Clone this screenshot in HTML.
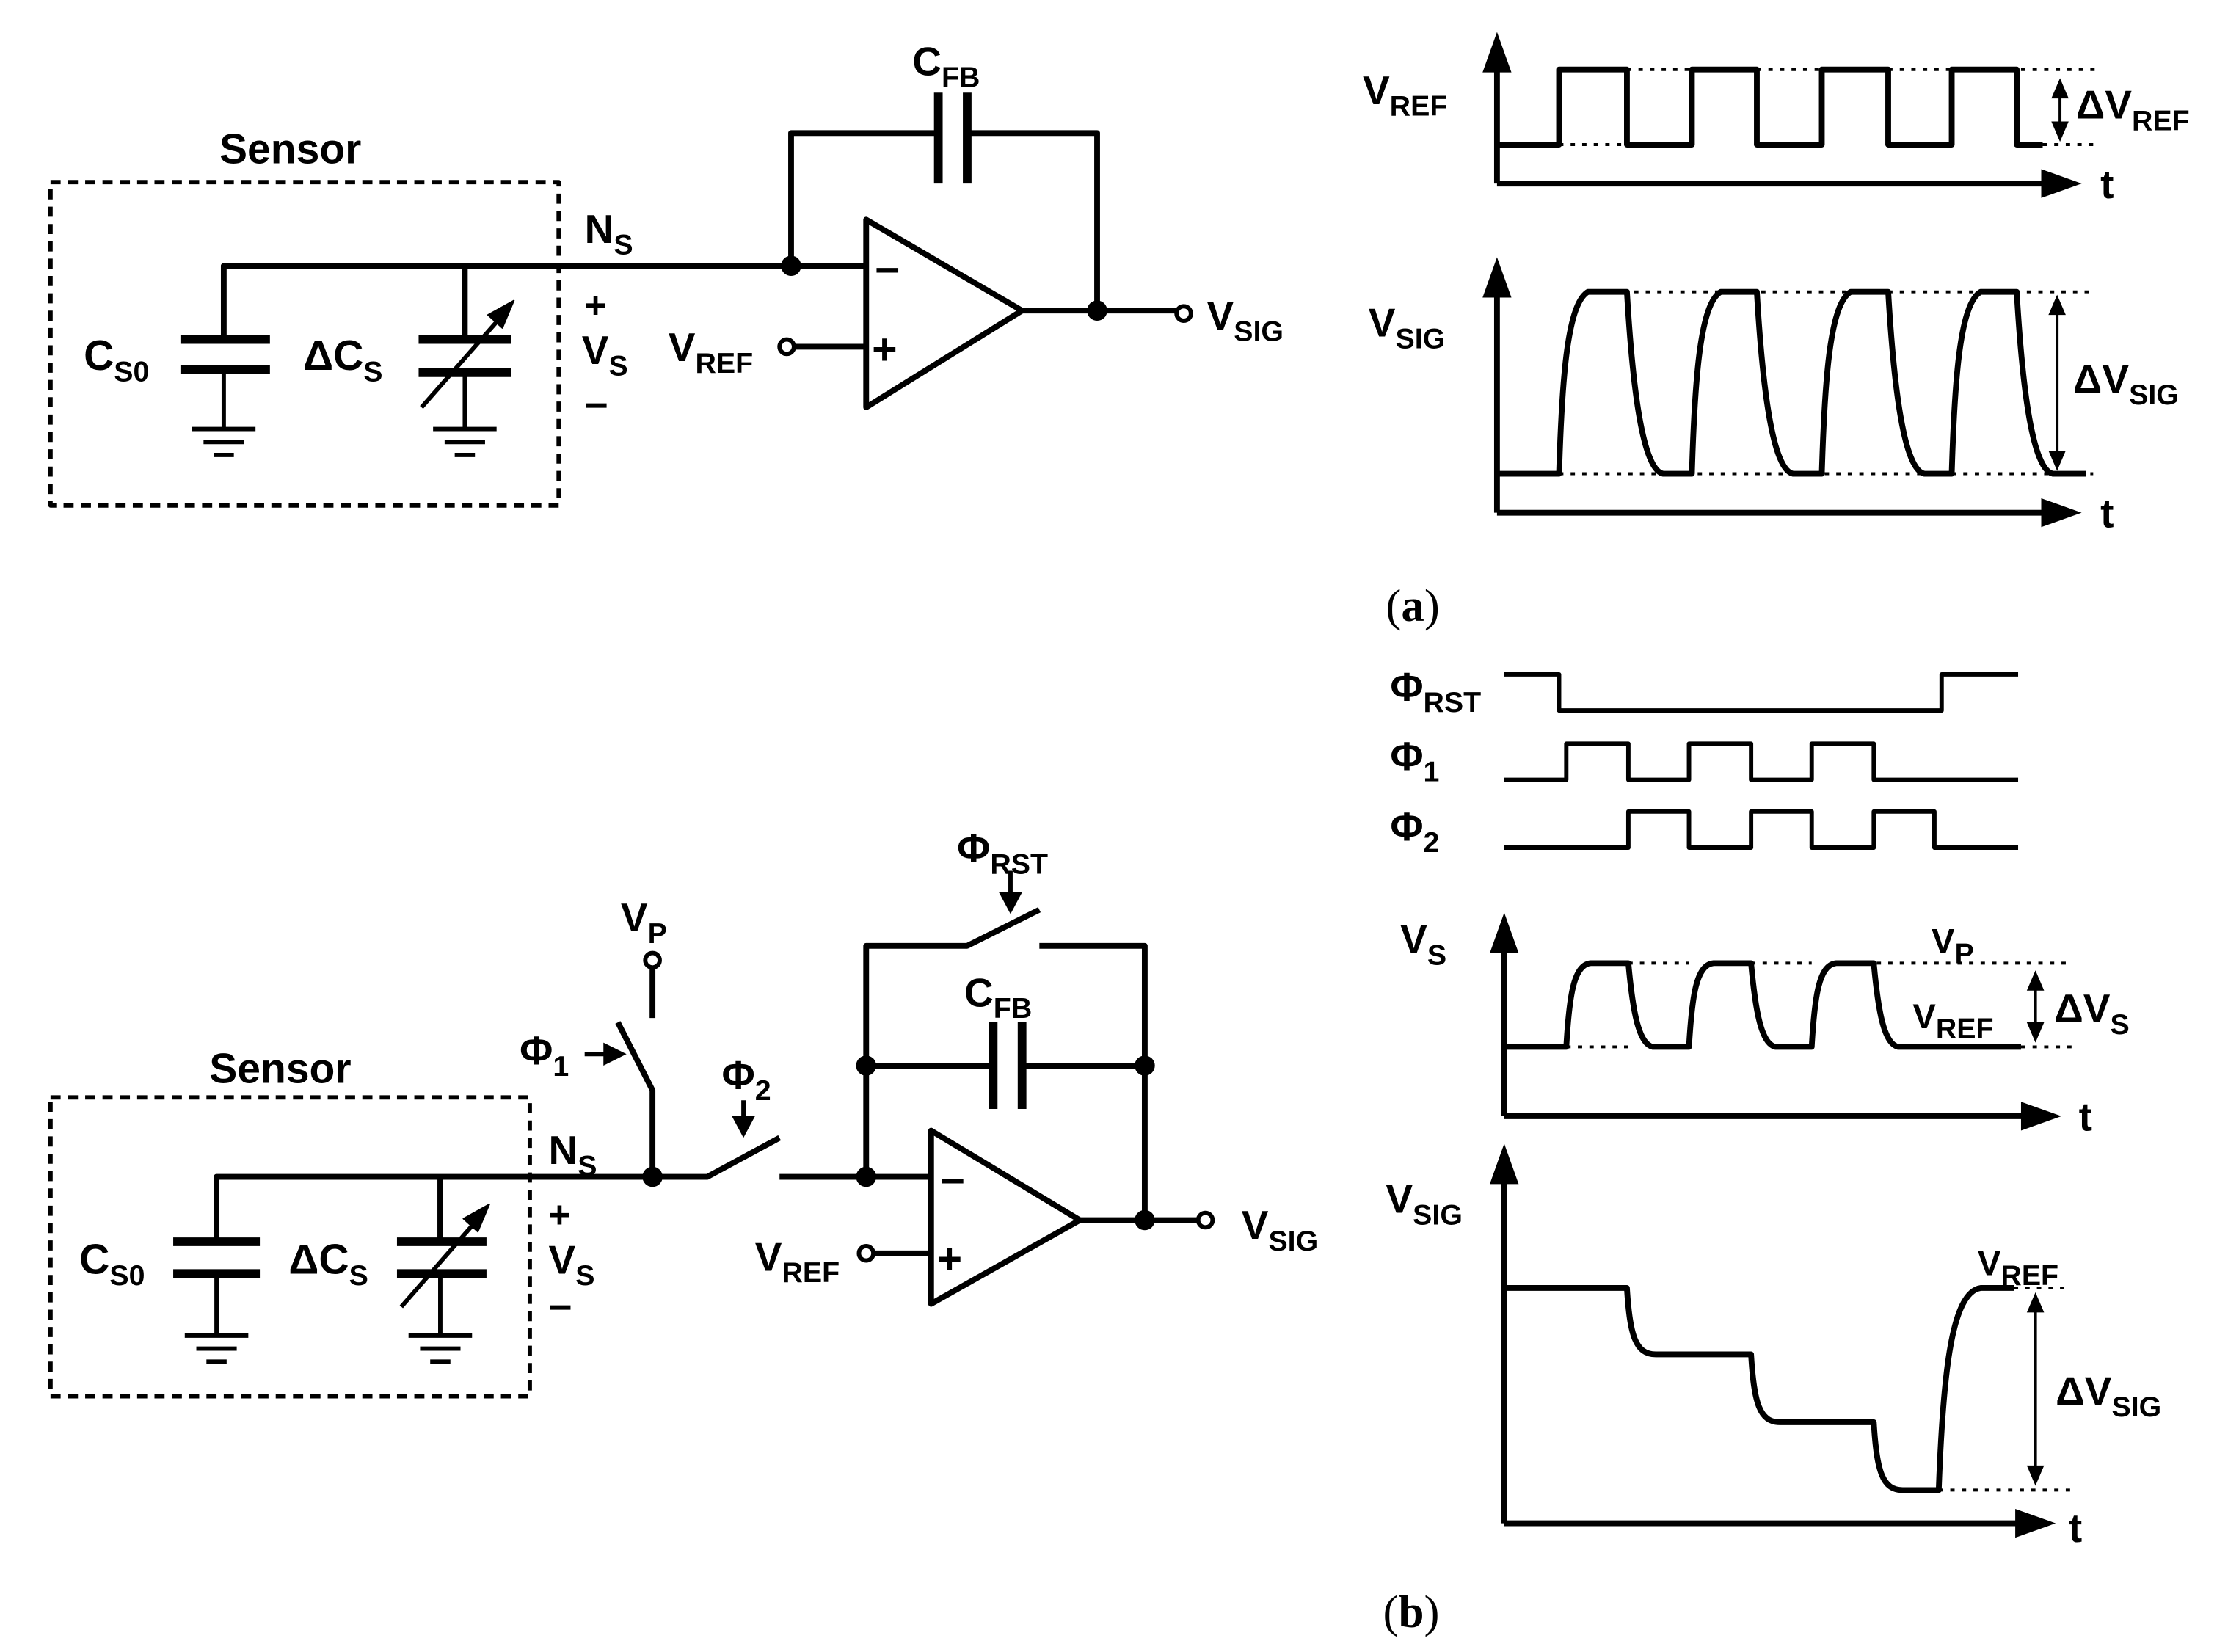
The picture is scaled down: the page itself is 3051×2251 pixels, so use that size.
<!DOCTYPE html>
<html><head><meta charset="utf-8"><style>
html,body{margin:0;padding:0;background:#fff}
svg{display:block}
text{font-family:"Liberation Sans",sans-serif;font-weight:bold;fill:#000}
.s{font-size:20px}
</style></head><body>
<svg width="3051" height="2251" viewBox="0 0 1551 1144" xmlns="http://www.w3.org/2000/svg">
<g fill="none" stroke="#000" stroke-width="4" stroke-linejoin="round">
<!-- (a) circuit -->
<rect x="35" y="126" width="352" height="224" stroke-dasharray="7,5" stroke-width="3"/>
<path d="M155,235 V184 H600"/>
<path d="M125,235 H187 M125,256 H187" stroke-width="6"/>
<path d="M155,256 V297 M133,297 H177 M141,306 H169 M148,315 H162" stroke-width="3"/>
<path d="M322,184 V235"/>
<path d="M290,235 H354 M290,258 H354" stroke-width="6"/>
<path d="M322,258 V297 M300,297 H344 M308,306 H336 M315,315 H329" stroke-width="3"/>
<path d="M292,282 L350,216" stroke-width="3"/>
<path d="M356,208 L338,218 L348,227 z" fill="#000" stroke-width="1"/>
<path d="M600,152 L600,282 L708,215 z"/>
<path d="M549,240 H600"/>
<circle cx="545" cy="240" r="5" stroke-width="3" fill="#fff"/>
<path d="M548,184 V92 H650 M670,92 H760 V215"/>
<path d="M650,64 V127 M670,64 V127" stroke-width="6"/>
<path d="M708,215 H815"/>
<circle cx="820" cy="217" r="5" stroke-width="3" fill="#fff"/>
<!-- (a) waveforms -->
<path d="M1037,127 V32 M1037,127 H1432" stroke-width="4"/>
<path d="M1037,100 H1080 V48 H1127 V100 H1172 V48 H1217 V100 H1262 V48 H1308 V100 H1352 V48 H1397 V100 H1415"/>
<path d="M1127,48 H1172 M1217,48 H1262 M1308,48 H1352 M1400,48 H1452 M1080,100 H1127 M1415,100 H1452" stroke-dasharray="3,5" stroke-width="2"/>
<path d="M1427,62 V92" stroke-width="2"/>
<path d="M1037,355 V190 M1037,355 H1432"/>
<path d="M1037,328 H1080 C1082,260 1086,210 1100,202 H1127 C1131,270 1138,325 1152,328 H1172 C1174,260 1178,210 1192,202 H1217 C1221,270 1228,325 1242,328 H1262 C1264,260 1268,210 1282,202 H1308 C1312,270 1319,325 1333,328 H1352 C1354,260 1358,210 1372,202 H1397 C1401,270 1408,325 1422,328 H1445"/>
<path d="M1100,202 H1450 M1080,328 H1450" stroke-dasharray="3,5" stroke-width="2"/>
<path d="M1425,212 V318" stroke-width="2"/>
<!-- (b) circuit -->
<rect x="35" y="760" width="332" height="207" stroke-dasharray="7,5" stroke-width="3"/>
<path d="M150,860 V815 H490 L540,788 M540,815 H645"/>
<path d="M120,860 H180 M120,882 H180" stroke-width="6"/>
<path d="M150,882 V925 M128,925 H172 M136,934 H164 M143,943 H157" stroke-width="3"/>
<path d="M305,815 V860"/>
<path d="M275,860 H337 M275,882 H337" stroke-width="6"/>
<path d="M305,882 V925 M283,925 H327 M291,934 H319 M298,943 H312" stroke-width="3"/>
<path d="M278,905 L333,842" stroke-width="3"/>
<path d="M339,834 L321,844 L331,853 z" fill="#000" stroke-width="1"/>
<path d="M452,670 V705 M428,708 L452,755 V815"/>
<circle cx="452" cy="665" r="5" stroke-width="3" fill="#fff"/>
<path d="M405,730 H422" stroke-width="3"/>
<path d="M515,762 V778" stroke-width="3"/>
<path d="M645,783 L645,903 L748,845 z"/>
<path d="M604,868 H645"/>
<circle cx="600" cy="868" r="5" stroke-width="3" fill="#fff"/>
<path d="M600,815 V655 H670 L720,630 M720,655 H793 V845"/>
<path d="M700,603 V622" stroke-width="3"/>
<path d="M600,738 H688 M708,738 H793"/>
<path d="M688,708 V768 M708,708 V768" stroke-width="6"/>
<path d="M748,845 H830"/>
<circle cx="835" cy="845" r="5" stroke-width="3" fill="#fff"/>
<!-- (b) timing -->
<path d="M1042,467 H1080 V492 H1345 V467 H1398" stroke-width="3"/>
<path d="M1042,540 H1085 V515 H1128 V540 H1170 V515 H1213 V540 H1255 V515 H1298 V540 H1398" stroke-width="3"/>
<path d="M1042,587 H1128 V562 H1170 V587 H1213 V562 H1255 V587 H1298 V562 H1340 V587 H1398" stroke-width="3"/>
<path d="M1042,773 V645 M1042,773 H1418"/>
<path d="M1042,725 H1085 C1087,690 1090,668 1102,667 H1128 C1131,700 1135,723 1145,725 H1170 C1172,690 1175,668 1187,667 H1213 C1216,700 1220,723 1230,725 H1255 C1257,690 1260,668 1272,667 H1298 C1301,700 1305,723 1315,725 H1400"/>
<path d="M1128,667 H1170 M1213,667 H1255 M1300,667 H1435 M1085,725 H1128 M1145,725 H1170 M1230,725 H1255 M1400,725 H1435" stroke-dasharray="3,5" stroke-width="2"/>
<path d="M1410,682 V712" stroke-width="2"/>
<path d="M1042,1055 V805 M1042,1055 H1412"/>
<path d="M1042,892 H1127 C1129,925 1133,938 1147,938 H1213 C1215,972 1219,985 1233,985 H1298 C1300,1019 1304,1032 1318,1032 H1343 C1346,950 1352,895 1372,892 H1395"/>
<path d="M1395,892 H1435 M1343,1032 H1435" stroke-dasharray="3,5" stroke-width="2"/>
<path d="M1410,905 V1020" stroke-width="2"/>
</g>
<g fill="#000">
<circle cx="548" cy="184" r="7"/><circle cx="760" cy="215" r="7"/>
<circle cx="452" cy="815" r="7"/><circle cx="600" cy="815" r="7"/><circle cx="600" cy="738" r="7"/><circle cx="793" cy="738" r="7"/><circle cx="793" cy="845" r="7"/>
<path d="M1037,22 L1027,50 L1047,50 z"/><path d="M1442,127 L1414,117 L1414,137 z"/>
<path d="M1037,178 L1027,206 L1047,206 z"/><path d="M1442,355 L1414,345 L1414,365 z"/>
<path d="M1042,632 L1032,660 L1052,660 z"/><path d="M1428,773 L1400,763 L1400,783 z"/>
<path d="M1042,792 L1032,820 L1052,820 z"/><path d="M1424,1055 L1396,1045 L1396,1065 z"/>
<!-- double arrows -->
<path d="M1427,54 L1421,68 L1433,68 z"/><path d="M1427,98 L1421,84 L1433,84 z"/>
<path d="M1425,204 L1419,218 L1431,218 z"/><path d="M1425,326 L1419,312 L1431,312 z"/>
<path d="M1410,672 L1404,686 L1416,686 z"/><path d="M1410,722 L1404,708 L1416,708 z"/>
<path d="M1410,895 L1404,909 L1416,909 z"/><path d="M1410,1029 L1404,1015 L1416,1015 z"/>
<!-- pointer arrows -->
<path d="M434,730 L418,722 L418,738 z"/>
<path d="M515,788 L507,773 L523,773 z"/>
<path d="M700,633 L692,618 L708,618 z"/>
</g>
<!-- text (a) -->
<text x="152" y="113" font-size="29">Sensor</text>
<text x="58" y="256" font-size="29">C<tspan class="s" dy="8">S0</tspan></text>
<text x="210" y="256" font-size="29">ΔC<tspan class="s" dy="8">S</tspan></text>
<text x="405" y="220" font-size="26">+</text>
<text x="403" y="252" font-size="28">V<tspan class="s" dy="8">S</tspan></text>
<text x="405" y="290" font-size="28">−</text>
<text x="405" y="168" font-size="28">N<tspan class="s" dy="8">S</tspan></text>
<text x="606" y="197" font-size="30">−</text>
<text x="604" y="252" font-size="30">+</text>
<text x="463" y="250" font-size="28">V<tspan class="s" dy="8">REF</tspan></text>
<text x="632" y="52" font-size="28">C<tspan class="s" dy="8">FB</tspan></text>
<text x="836" y="228" font-size="28">V<tspan class="s" dy="8">SIG</tspan></text>
<text x="944" y="72" font-size="28">V<tspan class="s" dy="8">REF</tspan></text>
<text x="1438" y="82" font-size="28">ΔV<tspan class="s" dy="8">REF</tspan></text>
<text x="1455" y="137" font-size="28">t</text>
<text x="948" y="233" font-size="28">V<tspan class="s" dy="8">SIG</tspan></text>
<text x="1436" y="272" font-size="28">ΔV<tspan class="s" dy="8">SIG</tspan></text>
<text x="1455" y="365" font-size="28">t</text>
<text x="960" y="430" font-size="32" style="font-family:'Liberation Serif',serif;font-weight:normal">(<tspan font-weight="bold">a</tspan>)</text>
<!-- text (b) -->
<text x="145" y="750" font-size="29">Sensor</text>
<text x="55" y="882" font-size="29">C<tspan class="s" dy="8">S0</tspan></text>
<text x="200" y="882" font-size="29">ΔC<tspan class="s" dy="8">S</tspan></text>
<text x="380" y="850" font-size="26">+</text>
<text x="380" y="882" font-size="28">V<tspan class="s" dy="8">S</tspan></text>
<text x="380" y="915" font-size="28">−</text>
<text x="380" y="806" font-size="28">N<tspan class="s" dy="8">S</tspan></text>
<text x="430" y="645" font-size="28">V<tspan class="s" dy="8">P</tspan></text>
<text x="360" y="737" font-size="28">Φ<tspan class="s" dy="8">1</tspan></text>
<text x="500" y="754" font-size="28">Φ<tspan class="s" dy="8">2</tspan></text>
<text x="663" y="597" font-size="28">Φ<tspan class="s" dy="8">RST</tspan></text>
<text x="668" y="697" font-size="28">C<tspan class="s" dy="8">FB</tspan></text>
<text x="651" y="828" font-size="30">−</text>
<text x="649" y="882" font-size="30">+</text>
<text x="523" y="880" font-size="28">V<tspan class="s" dy="8">REF</tspan></text>
<text x="860" y="858" font-size="28">V<tspan class="s" dy="8">SIG</tspan></text>
<text x="963" y="485" font-size="28">Φ<tspan class="s" dy="8">RST</tspan></text>
<text x="963" y="533" font-size="28">Φ<tspan class="s" dy="8">1</tspan></text>
<text x="963" y="582" font-size="28">Φ<tspan class="s" dy="8">2</tspan></text>
<text x="970" y="660" font-size="28">V<tspan class="s" dy="8">S</tspan></text>
<text x="1338" y="660" font-size="24">V<tspan class="s" dy="7">P</tspan></text>
<text x="1325" y="712" font-size="24">V<tspan class="s" dy="7">REF</tspan></text>
<text x="1423" y="708" font-size="28">ΔV<tspan class="s" dy="8">S</tspan></text>
<text x="1440" y="783" font-size="28">t</text>
<text x="960" y="840" font-size="28">V<tspan class="s" dy="8">SIG</tspan></text>
<text x="1370" y="883" font-size="24">V<tspan class="s" dy="7">REF</tspan></text>
<text x="1424" y="973" font-size="28">ΔV<tspan class="s" dy="8">SIG</tspan></text>
<text x="1433" y="1068" font-size="28">t</text>
<text x="958" y="1127" font-size="32" style="font-family:'Liberation Serif',serif;font-weight:normal">(<tspan font-weight="bold">b</tspan>)</text>
</svg>
</body></html>
